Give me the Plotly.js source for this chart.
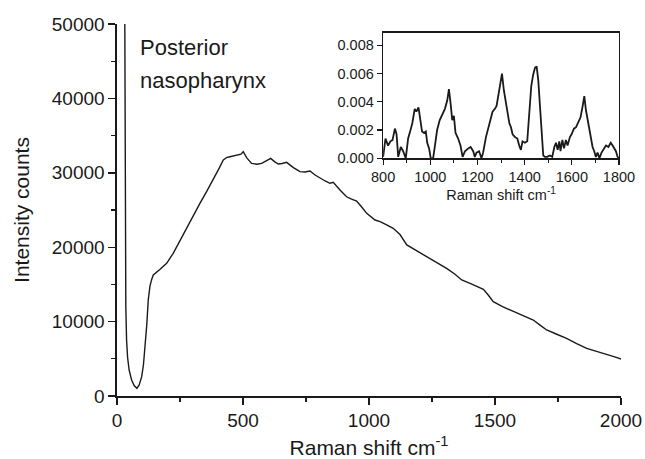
<!DOCTYPE html>
<html>
<head>
<meta charset="utf-8">
<script src="https://cdn.plot.ly/plotly-3.0.1.min.js"></script>
<style>html,body{margin:0;padding:0;background:#fff;}</style>
</head>
<body>
<div id="chart" style="width:645px;height:459px;"></div>
<script>
// Main spectrum: Raman shift (cm-1) vs intensity counts
const mainShift = [30, 32, 35, 38, 42, 48, 58, 68, 79, 88, 98, 105, 111, 118, 124, 131, 138, 144, 170, 197, 223, 250, 277, 303, 329, 356, 382, 402, 422, 435, 448, 465, 481, 492, 501, 515, 534, 555, 574, 592, 610, 625, 640, 655, 673, 700, 726, 746, 766, 786, 806, 826, 845, 858, 885, 911, 931, 951, 971, 991, 1024, 1044, 1070, 1096, 1123, 1150, 1190, 1229, 1268, 1308, 1340, 1368, 1410, 1440, 1454, 1473, 1493, 1530, 1573, 1610, 1652, 1680, 1705, 1745, 1784, 1824, 1864, 1903, 1943, 1975, 2003];
const mainCounts = [60000, 30000, 12000, 7500, 5200, 3500, 2150, 1400, 1030, 1500, 2600, 4200, 6200, 9500, 12900, 14800, 15700, 16260, 17000, 17830, 19180, 20900, 22760, 24400, 25900, 27500, 29030, 30400, 31720, 32050, 32160, 32300, 32390, 32500, 32830, 32000, 31270, 31150, 31270, 31600, 31940, 31500, 31180, 31250, 31400, 30700, 30150, 30100, 30240, 29700, 29260, 28900, 28590, 28720, 27700, 26780, 26450, 26210, 25400, 24550, 23650, 23430, 23000, 22540, 21700, 20300, 19500, 18720, 17900, 17160, 16400, 15590, 15000, 14600, 14340, 13570, 12670, 12000, 11330, 10800, 10210, 9500, 8870, 8300, 7750, 7050, 6410, 6000, 5640, 5250, 4930];

// Inset: difference spectrum 800-1800 cm-1
const insetShift = [800, 810, 821, 831, 840, 850, 857, 864, 875, 885, 896, 906, 913, 924, 934, 941, 950, 956, 965, 973, 981, 987, 995, 1002, 1012, 1019, 1029, 1040, 1052, 1062, 1072, 1079, 1086, 1093, 1100, 1107, 1118, 1128, 1137, 1147, 1161, 1171, 1182, 1189, 1196, 1207, 1217, 1224, 1236, 1246, 1255, 1264, 1274, 1281, 1288, 1295, 1304, 1312, 1320, 1328, 1335, 1342, 1349, 1359, 1369, 1377, 1384, 1391, 1401, 1411, 1420, 1428, 1436, 1444, 1451, 1458, 1465, 1472, 1479, 1486, 1496, 1507, 1517, 1526, 1533, 1540, 1547, 1552, 1560, 1567, 1575, 1582, 1592, 1599, 1609, 1618, 1627, 1637, 1646, 1653, 1660, 1667, 1674, 1681, 1688, 1695, 1702, 1709, 1717, 1726, 1736, 1745, 1755, 1765, 1773, 1780, 1787, 1794, 1800];
const insetValue = [0.0001, 0.0014, 0.0009, 0.0012, 0.0013, 0.0021, 0.0017, 0.0001, 0.0008, 0.0005, 0.0000, 0.0014, 0.0018, 0.0025, 0.0035, 0.0033, 0.0036, 0.0029, 0.0019, 0.0018, 0.0019, 0.0011, 0.0007, 0.0000, 0.0000, 0.0008, 0.0020, 0.0027, 0.0031, 0.0035, 0.0041, 0.0049, 0.0039, 0.0027, 0.0030, 0.0018, 0.0014, 0.0009, 0.0001, 0.0005, 0.0007, 0.0008, 0.0005, 0.0001, 0.0004, 0.0005, 0.0000, 0.0004, 0.0015, 0.0022, 0.0028, 0.0033, 0.0035, 0.0037, 0.0044, 0.0052, 0.0060, 0.0048, 0.0039, 0.0030, 0.0025, 0.0022, 0.0017, 0.0015, 0.0014, 0.0009, 0.0006, 0.0012, 0.0011, 0.0012, 0.0030, 0.0051, 0.0059, 0.0064, 0.0065, 0.0055, 0.0037, 0.0015, 0.0002, 0.0001, 0.0001, 0.0002, 0.0001, 0.0008, 0.0011, 0.0006, 0.0012, 0.0005, 0.0013, 0.0007, 0.0013, 0.0009, 0.0015, 0.0017, 0.0021, 0.0022, 0.0026, 0.0029, 0.0037, 0.0044, 0.0034, 0.0027, 0.0020, 0.0013, 0.0008, 0.0005, 0.0001, 0.0004, 0.0000, 0.0004, 0.0007, 0.0009, 0.0008, 0.0011, 0.0009, 0.0007, 0.0005, 0.0001, 0.0000];

const FONT = '"Liberation Sans", Arial, Helvetica, sans-serif';
const INK = '#1a1a1a';

const traces = [
  {x: mainShift, y: mainCounts, type: 'scatter', mode: 'lines',
   line: {color: INK, width: 1.4}, xaxis: 'x', yaxis: 'y', hoverinfo: 'skip'},
  {x: insetShift, y: insetValue, type: 'scatter', mode: 'lines',
   line: {color: INK, width: 1.8}, xaxis: 'x2', yaxis: 'y2', hoverinfo: 'skip'}
];

const layout = {
  width: 645, height: 459,
  margin: {l: 117, r: 24, t: 24, b: 63},
  paper_bgcolor: '#fff', plot_bgcolor: 'rgba(0,0,0,0)',
  showlegend: false,
  font: {family: FONT, color: INK},
  xaxis: {
    domain: [0, 1], range: [0, 2000], dtick: 500, tick0: 0, tickformat: 'd',
    showgrid: false, zeroline: false, showline: true, linecolor: INK, linewidth: 1.6,
    ticks: 'outside', ticklen: 7, tickwidth: 1.4, tickcolor: INK,
    minor: {dtick: 250, ticks: 'outside', ticklen: 4, tickwidth: 1.2, tickcolor: INK, showgrid: false},
    tickfont: {size: 19, family: FONT, color: INK},
    title: {text: 'Raman shift cm<sup>-1</sup>', font: {size: 21, family: FONT, color: INK}, standoff: 14},
    automargin: false
  },
  yaxis: {
    domain: [0, 1], range: [0, 50000], dtick: 10000, tick0: 0, tickformat: 'd',
    showgrid: false, zeroline: false, showline: true, linecolor: INK, linewidth: 1.6,
    ticks: 'outside', ticklen: 7, tickwidth: 1.4, tickcolor: INK,
    minor: {dtick: 5000, ticks: 'outside', ticklen: 4, tickwidth: 1.2, tickcolor: INK, showgrid: false},
    tickfont: {size: 19, family: FONT, color: INK},
    title: {text: 'Intensity counts', font: {size: 21, family: FONT, color: INK}, standoff: 16},
    automargin: false
  },
  xaxis2: {
    domain: [0.528, 0.996], anchor: 'y2', range: [800, 1800], dtick: 200, tick0: 800, tickformat: 'd',
    showgrid: false, zeroline: false, showline: true, mirror: true, linecolor: INK, linewidth: 1.4,
    ticks: 'outside', ticklen: 5, tickwidth: 1.2, tickcolor: INK,
    minor: {dtick: 100, ticks: 'outside', ticklen: 3, tickwidth: 1, tickcolor: INK, showgrid: false},
    tickfont: {size: 14.5, family: FONT, color: INK},
    title: {text: 'Raman shift cm<sup>-1</sup>', font: {size: 14.5, family: FONT, color: INK}, standoff: 4},
    automargin: false
  },
  yaxis2: {
    domain: [0.639, 0.977], anchor: 'x2', range: [0, 0.0089], dtick: 0.002, tick0: 0,
    tickformat: '.3f',
    showgrid: false, zeroline: false, showline: true, mirror: true, linecolor: INK, linewidth: 1.4,
    ticks: 'outside', ticklen: 5, tickwidth: 1.2, tickcolor: INK,
    tickfont: {size: 14.5, family: FONT, color: INK},
    automargin: false
  },
  annotations: [
    {text: 'Posterior', xref: 'paper', yref: 'paper', x: 0.0417, y: 0.938,
     xanchor: 'left', yanchor: 'middle', showarrow: false,
     font: {size: 22, family: FONT, color: INK}},
    {text: 'nasopharynx', xref: 'paper', yref: 'paper', x: 0.0417, y: 0.849,
     xanchor: 'left', yanchor: 'middle', showarrow: false,
     font: {size: 22, family: FONT, color: INK}}
  ]
};

Plotly.newPlot('chart', traces, layout, {staticPlot: true, displayModeBar: false});
</script>
</body>
</html>
